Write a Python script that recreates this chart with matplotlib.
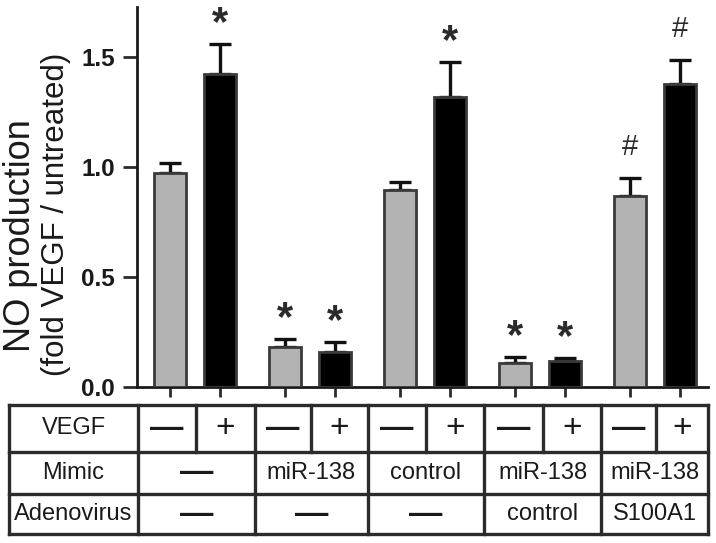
import matplotlib

matplotlib.use("Agg")

import matplotlib.pyplot as plt
from matplotlib.lines import Line2D

plt.rcParams["font.family"] = ["Liberation Sans", "DejaVu Sans"]

# bar heights and upper error (mean + sem)
means = [0.974, 1.423, 0.180, 0.157, 0.896, 1.319, 0.107, 0.117, 0.869, 1.378]
err_tops = [1.020, 1.559, 0.216, 0.203, 0.933, 1.478, 0.135, 0.130, 0.951, 1.487]
marks = ["", "*", "*", "*", "", "*", "*", "*", "#", "#"]
fills = ["#b3b3b3", "#000000"] * 5

row_labels = ["VEGF", "Mimic", "Adenovirus"]
vegf_row = ["\u2014", "+"] * 5
mimic_row = ["\u2014", "miR-138", "control", "miR-138", "miR-138"]
adeno_row = ["\u2014", "\u2014", "\u2014", "control", "S100A1"]

W, H = 716, 543
DARK = "#2b2b2b"


def bar_positions():
    xs = []
    for g in range(5):
        xs += [g * 2.3, g * 2.3 + 1]
    return xs


def draw_bars(ax):
    xs = bar_positions()
    errs = [t - m for t, m in zip(err_tops, means)]
    ax.bar(xs, means, width=0.64, color=fills, edgecolor="#3a3a3a",
           linewidth=2, zorder=3)
    ax.errorbar(xs, means, yerr=[[0] * len(errs), errs], fmt="none",
                ecolor="#111111", elinewidth=2.4, capsize=8, capthick=2.4,
                zorder=2)
    for x, top, m in zip(xs, err_tops, marks):
        if m == "*":
            ax.text(x, top, m, ha="center", va="bottom",
                    fontsize=30, fontweight="bold", color=DARK)
        elif m == "#":
            ax.text(x, top + 0.075, m, ha="center", va="bottom",
                    fontsize=21, color=DARK)

    ax.set_xlim(-0.66, 10.76)
    ax.set_ylim(0, 1.727)
    ax.set_yticks([0, 0.5, 1.0, 1.5])
    ax.set_yticklabels(["0.0", "0.5", "1.0", "1.5"], fontsize=17.5,
                       fontweight="bold", color="#1a1a1a")
    ax.set_xticks(xs)
    ax.set_xticklabels([])
    ax.tick_params(axis="y", length=10, width=2, pad=6, color=DARK)
    ax.tick_params(axis="x", length=7, width=2, color=DARK)
    for side in ("top", "right"):
        ax.spines[side].set_visible(False)
    for side in ("left", "bottom"):
        ax.spines[side].set_linewidth(2)
        ax.spines[side].set_color("#1a1a1a")


def draw_table(fig):
    tab = fig.add_axes([0, 0, 1, 1])
    tab.set_xlim(0, W)
    tab.set_ylim(H, 0)
    tab.axis("off")
    tab.patch.set_alpha(0)

    left = 9
    groups = [138, 255, 368, 484, 601, 708]
    splits = [196, 311, 426, 543, 656]
    rows = [405, 452, 494, 534]
    lw = 2.4

    def line(x0, x1, y0, y1):
        tab.add_line(Line2D([x0, x1], [y0, y1], color=DARK, lw=lw,
                            solid_capstyle="projecting"))

    for y in rows:
        line(left, groups[-1], y, y)
    for x in [left] + groups:
        line(x, x, rows[0], rows[-1])
    for x in splits:
        line(x, x, rows[0], rows[1])

    ymid = [(rows[i] + rows[i + 1]) / 2 for i in range(3)]
    for lab, y in zip(row_labels, ymid):
        tab.text((left + groups[0]) / 2, y, lab, ha="center", va="center",
                 fontsize=17, color="#1a1a1a")

    cells = []
    for g in range(5):
        cells += [(groups[g], splits[g]), (splits[g], groups[g + 1])]
    for (x0, x1), s in zip(cells, vegf_row):
        tab.text((x0 + x1) / 2, ymid[0], s, ha="center", va="center",
                 fontsize=24, color="#1a1a1a",
                 fontweight="bold" if s != "+" else "normal")
    for row, y in ((mimic_row, ymid[1]), (adeno_row, ymid[2])):
        for g, s in enumerate(row):
            xc = (groups[g] + groups[g + 1]) / 2
            if s == "\u2014":
                tab.text(xc, y, s, ha="center", va="center", fontsize=24,
                         fontweight="bold", color="#1a1a1a")
            else:
                tab.text(xc, y, s, ha="center", va="center", fontsize=17,
                         color="#1a1a1a")


def main():
    fig = plt.figure(figsize=(W / 100, H / 100), dpi=100)
    ax = fig.add_axes([137 / W, 1 - 387 / H, (708 - 137) / W, (387 - 7) / H])
    draw_bars(ax)
    fig.text(3 / W, 1 - 236 / H, "NO production", rotation=90,
             ha="left", va="center", fontsize=26, color="#1a1a1a")
    fig.text(41 / W, 1 - 214 / H, "(fold VEGF / untreated)", rotation=90,
             ha="left", va="center", fontsize=22.5, color="#1a1a1a")
    draw_table(fig)
    fig.savefig("out.png", dpi=100)
    plt.close(fig)


if __name__ == "__main__":
    main()
